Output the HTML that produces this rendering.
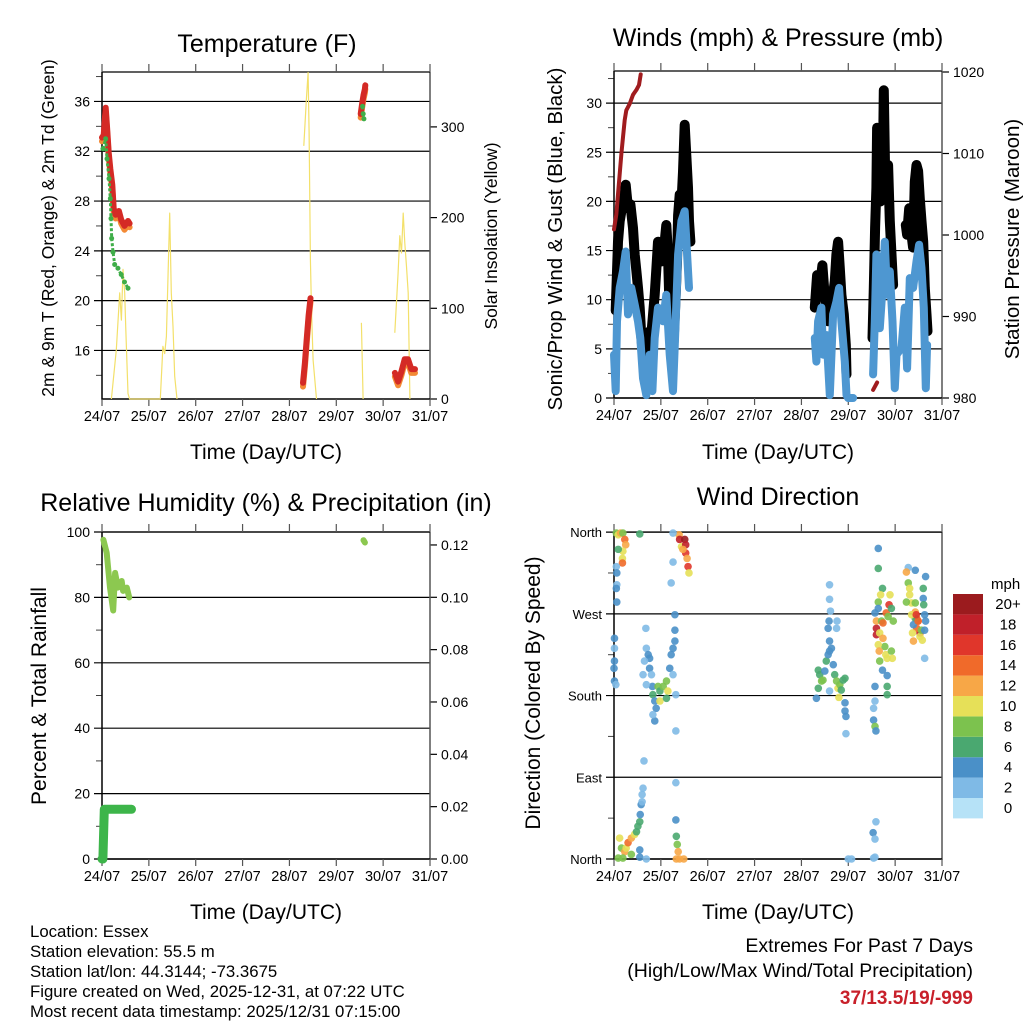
<!DOCTYPE html>
<html><head><meta charset="utf-8"><style>
html,body{margin:0;padding:0;background:#fff;}
svg{display:block;font-family:"Liberation Sans",Arial,sans-serif;}
</style></head><body>
<svg id="chart" width="1024" height="1024" viewBox="0 0 1024 1024" xmlns="http://www.w3.org/2000/svg">
<rect x="0" y="0" width="1024" height="1024" fill="#fff"/>
<g id="layer"></g>
<text x="267" y="52" font-size="25" text-anchor="middle">Temperature (F)</text>
<text x="778" y="46" font-size="25" text-anchor="middle">Winds (mph) &amp; Pressure (mb)</text>
<text x="266" y="511" font-size="25" text-anchor="middle">Relative Humidity (%) &amp; Precipitation (in)</text>
<text x="778" y="505" font-size="25" text-anchor="middle">Wind Direction</text>
<text x="266" y="459" font-size="21" text-anchor="middle">Time (Day/UTC)</text>
<text x="778" y="459" font-size="21" text-anchor="middle">Time (Day/UTC)</text>
<text x="266" y="919" font-size="21" text-anchor="middle">Time (Day/UTC)</text>
<text x="778" y="919" font-size="21" text-anchor="middle">Time (Day/UTC)</text>
<text transform="translate(54,228) rotate(-90)" font-size="17.5" text-anchor="middle">2m &amp; 9m T (Red, Orange) &amp; 2m Td (Green)</text>
<text transform="translate(497,236) rotate(-90)" font-size="17.5" text-anchor="middle">Solar Insolation (Yellow)</text>
<text transform="translate(562,239) rotate(-90)" font-size="20.5" text-anchor="middle">Sonic/Prop Wind &amp; Gust (Blue, Black)</text>
<text transform="translate(1019,239) rotate(-90)" font-size="20.5" text-anchor="middle">Station Pressure (Maroon)</text>
<text transform="translate(46,696) rotate(-90)" font-size="21" text-anchor="middle">Percent &amp; Total Rainfall</text>
<text transform="translate(540,693) rotate(-90)" font-size="21" text-anchor="middle">Direction (Colored By Speed)</text>
<g font-size="16.8">
<text x="30" y="937">Location: Essex</text>
<text x="30" y="957">Station elevation: 55.5 m</text>
<text x="30" y="977">Station lat/lon: 44.3144; -73.3675</text>
<text x="30" y="997">Figure created on Wed, 2025-12-31, at 07:22 UTC</text>
<text x="30" y="1017">Most recent data timestamp: 2025/12/31 07:15:00</text>
</g>
<text x="973" y="952" font-size="19.5" text-anchor="end">Extremes For Past 7 Days</text>
<text x="973" y="977" font-size="19.5" text-anchor="end">(High/Low/Max Wind/Total Precipitation)</text>
<text x="973" y="1004" font-size="19" font-weight="bold" fill="#c8202a" text-anchor="end">37/13.5/19/-999</text>
</svg>
<script>
// ---------- data ----------
const dayLabels=["24/07","25/07","26/07","27/07","28/07","29/07","30/07","31/07"];
const tempTicks=[16,20,24,28,32,36];
const solarTicks=[0,100,200,300];
const windTicks=[0,5,10,15,20,25,30];
const pressTicks=[980,990,1000,1010,1020];
const rhTicks=[0,20,40,60,80,100];
const precipTicks=["0.00","0.02","0.04","0.06","0.08","0.10","0.12"];
const dirTickLabels=["North","East","South","West","North"];
const dirTickValues=[0,90,180,270,360];
const speedLabels=["0","2","4","6","8","10","12","14","16","18","20+"];
const speedColors=["#b6e2f7","#7fbae6","#4a90c8","#4aa870","#7cc24e","#e6e058","#f7a747","#f06a2a","#e0362b","#c0202a","#9b1b1e"];

const tempDays=[0,0.036,0.078,0.107,0.142,0.178,0.22,0.25,0.29,0.36,0.41,0.48,0.555,0.59,null,4.29,4.33,4.37,4.41,4.45,null,5.52,5.55,5.58,5.61,5.62,null,6.25,6.32,6.39,6.46,6.53,6.6,6.68];
const tempVals=[33.1,33.3,35.5,34.0,31.9,30.6,29.3,27.4,26.9,27.2,26.5,26.0,26.4,26.2,null,13.4,15,17,18.8,20.2,null,35.0,35.8,36.5,37.0,37.3,null,14.2,13.5,14.3,15.3,15.3,14.5,14.5];
const dewDays=[0.02,0.078,0.107,0.15,0.178,0.192,0.206,0.235,0.27,0.34,0.41,0.48,0.555,null,5.56,5.575,5.59];
const dewVals=[32.2,33.0,31.4,29.8,28.2,26.6,25.0,23.9,22.9,22.6,22.1,21.5,21.0,null,35.6,35.0,34.6];
const solarDays=[0.2,0.306,0.377,0.413,0.448,0.484,0.505,0.555,0.59,1.245,1.30,1.338,1.374,1.41,1.445,1.48,1.516,1.552,1.60,null,4.306,4.363,4.399,4.42,4.448,4.47,4.505,4.577,null,5.537,5.573,null,6.249,6.32,6.356,6.391,6.427,6.463,6.498,6.534,6.57];
const solarVals=[0,54,117,87,143,117,80,6,0,0,58,50,69,139,205,117,80,25,0,null,279,331,360,294,154,98,43,0,null,84,0,null,73,139,180,161,205,172,146,117,0];

const windDays=[0,0.036,0.064,0.121,0.192,0.249,0.299,0.37,0.441,0.512,0.562,0.619,0.69,0.762,0.819,0.868,0.94,1.046,1.117,1.189,1.26,1.317,1.367,1.438,1.509,1.559,1.601,null,4.285,4.32,4.356,4.427,4.463,4.534,4.605,4.676,4.747,4.804,4.854,4.925,4.961,4.996,5.103,null,5.53,5.566,5.601,5.637,5.673,5.73,5.779,5.829,5.886,5.943,5.993,6.028,6.135,6.206,6.256,6.313,6.384,6.456,6.512,6.562,6.612,6.655,6.683];
const windVals=[4.4,0.7,7.8,11.2,12.9,14.9,8.5,11.2,9.5,7.8,6.1,2,0.3,4.4,0.7,6.1,9.2,7.8,10.5,4.4,0.7,7.8,14.6,18,19,14.6,11.2,null,6.1,3.7,7.8,9.2,4.4,6.4,0.3,8.5,9.8,11.2,7.8,3.7,0.3,0,0,null,2.4,7.8,14.6,9.2,7.1,11.2,15.9,10.5,12.9,7.8,1,4.4,5.1,9.2,3,12.2,11.2,13.9,15.6,13.2,9.2,1,5.4];
const gustDays=[0.036,0.085,0.121,0.157,0.206,0.249,0.299,0.349,0.406,0.441,0.477,0.512,0.548,0.584,0.619,0.655,0.69,0.726,0.762,0.797,0.868,0.904,0.94,0.975,1.011,1.082,1.117,1.153,1.189,1.26,1.317,1.345,1.367,1.402,1.438,1.473,1.509,1.544,1.58,1.601,1.63,null,4.285,4.335,4.39,4.448,4.498,4.57,4.64,4.712,4.747,4.783,4.819,4.854,4.904,4.947,4.961,null,5.516,5.544,5.573,5.601,5.616,5.63,5.658,5.687,5.73,5.758,5.786,5.815,5.85,5.886,5.922,5.957,null,6.228,6.256,6.299,6.349,6.384,6.42,6.456,6.491,6.527,6.562,6.598,6.633,6.669,6.69];
const gustVals=[8.9,15.9,18,19,19.7,21.7,19.3,19.7,17.3,14.6,12.9,11.2,9.2,6.1,4.4,5.1,4.4,6.1,6.8,6.4,10.5,13.2,15.9,15.3,13.9,15.9,17.6,14.6,8.5,4.4,10.5,13.9,18.6,20.7,19.7,23,27.8,24.7,21.4,18,15.9,null,9.2,12.5,11.2,13.5,10.2,7.8,9.2,11.9,14.6,15.9,13.2,10.5,8.5,5.4,2.4,null,6.1,11.2,17.3,21.4,27.5,25.4,23.1,20,20.3,31.3,23.1,20.7,23.7,18,14.6,11.5,null,17.6,16.6,19.3,16.6,15.3,22,23.7,23.1,20.3,18,15.9,11.2,8.5,6.8];
const pressDays=[0,0.05,0.085,0.121,0.157,0.192,0.228,0.263,0.335,0.406,0.477,0.534,0.569,null,5.53,5.616];
const pressVals=[1000.7,1002.5,1005,1007.5,1010,1012,1014.1,1015.3,1016.1,1017.2,1017.8,1018.4,1019.7,null,981,981.9];

const rhDays=[0.03,0.1,0.17,0.24,0.28,0.34,0.42,0.45,0.53,0.58,null,5.58,5.61];
const rhVals=[97.6,93.6,83,76,87.5,83,85,82,83,80,null,97.5,96.8];
const precipDays=[0.0,0.02,0.05,0.63];
const precipVals=[0,0,0.019,0.019];

const dirDays=[0.05,0.09,0.14,0.19,0.23,0.25,0.19,0.18,0.18,0.09,0.05,0.06,0.06,0.05,0.06,0.55,
0.01,0.01,0.01,0.0,0.01,0.04,0.68,0.69,0.73,0.76,0.76,0.80,0.82,0.83,0.87,0.90,0.87,0.94,0.98,0.98,1.05,1.12,1.15,1.12,1.19,1.22,1.26,1.30,1.30,1.30,1.26,1.32,0.62,0.69,0.65,0.83,1.32,
1.39,1.40,1.44,1.51,1.53,1.53,1.56,1.58,1.60,1.47,1.26,1.22,1.26,
0.12,0.16,0.23,0.26,0.30,0.37,0.37,0.44,0.48,0.51,0.55,0.56,0.58,0.60,0.62,0.60,0.55,0.55,0.09,0.19,0.69,0.64,1.32,1.32,1.33,1.35,1.37,1.40,1.49,1.33,
4.32,4.36,4.39,4.43,4.46,4.36,4.50,4.53,4.57,4.60,4.64,4.60,4.57,4.59,4.60,4.60,4.62,4.76,4.75,4.68,4.71,4.75,4.78,4.82,4.85,4.89,4.93,4.80,4.93,4.93,4.95,4.95,5.0,5.07,4.60,
5.64,5.64,5.73,5.64,5.69,5.89,5.87,5.81,5.57,5.60,5.71,5.74,5.60,5.60,5.67,5.74,5.78,5.64,5.66,5.67,5.80,5.83,5.73,5.92,5.94,5.96,5.85,5.92,5.64,5.83,5.83,5.83,5.57,5.57,5.54,5.54,5.57,5.59,5.53,5.57,5.59,5.57,5.54,
6.28,6.43,6.24,6.65,6.28,6.31,6.31,6.35,6.24,6.43,6.60,6.60,6.61,6.63,6.65,6.43,6.46,6.49,6.53,6.46,6.37,6.39,6.53,6.56,6.63,6.43,6.39,6.63,6.35,6.58,6.49,6.45];
const dirDegs=[359,357,359,359,352,346,339,331,326,341,322,315,302,298,283,358,
243,232,218,210,196,192,254,232,225,221,210,203,190,181,174,166,152,190,185,174,190,196,185,177,210,225,232,240,269,252,203,181,203,192,218,159,141,
357,352,344,352,346,337,331,322,315,341,327,304,359,
23,12,8,12,18,23,5,27,30,36,41,49,60,71,78,63,10,2,1,1,0,108,84,43,25,16,8,0,0,0,
177,188,203,196,197,208,207,218,225,229,232,240,254,262,286,302,273,262,254,214,203,196,188,192,186,197,199,178,172,163,157,138,0,0,185,
342,320,298,283,291,291,280,271,271,262,262,260,254,247,249,243,234,236,229,218,225,221,208,229,221,262,267,276,276,202,190,181,190,174,166,153,146,141,29,22,41,2,1];
dirDegs.push(321,318,316,311,304,298,291,282,283,282,298,287,280,269,262,272,265,262,249,254,249,240,245,252,252,265,258,221,269,241,262,269);
const dirSpeeds=[8,10,12,8,14,12,10,10,14,6,2,4,2,4,4,6,
4,2,4,4,4,2,2,2,4,4,4,2,4,6,4,4,4,8,6,10,8,8,10,6,4,4,4,4,4,4,2,2,2,2,2,2,2,
12,18,10,20,18,16,12,16,10,12,2,2,2,
10,8,12,10,14,12,8,10,6,6,6,4,4,2,2,2,4,4,8,8,2,2,2,4,6,8,12,12,12,12,
4,6,6,8,8,6,4,6,4,4,4,4,4,4,2,2,2,2,2,4,6,8,10,8,6,6,6,10,4,4,4,2,2,2,2,
4,6,6,8,10,10,16,14,4,12,8,14,18,18,10,12,8,10,12,8,10,10,4,8,10,8,8,6,4,4,6,6,4,2,2,4,8,4,4,2,2,2,2];
dirSpeeds.push(2,4,12,4,8,10,10,10,8,8,6,4,6,4,4,12,14,16,18,14,10,12,10,8,4,6,4,2,10,10,14,16);

// ---------- helpers ----------
const NS="http://www.w3.org/2000/svg";
const layer=document.getElementById('layer');
function mk(tag,attrs,parent){const e=document.createElementNS(NS,tag);for(const k in attrs)e.setAttribute(k,attrs[k]);(parent||layer).appendChild(e);return e;}
const P1={x0:102,x1:430,y0:72,y1:399};
const P2={x0:614,x1:942,y0:71,y1:398};
const P3={x0:102,x1:430,y0:532,y1:859};
const P4={x0:614,x1:942,y0:532,y1:859};
const dayW=p=>(p.x1-p.x0)/7;
const xs=(p,d)=>p.x0+d*dayW(p);
const yTemp=t=>399-(t-12.1)*12.45;
const ySolar=s=>399-s*0.907;
const yWind=w=>398-w*9.83;
const yPress=v=>398-(v-980)*8.15;
const yRH=r=>859-r*3.27;
const yPrecip=v=>859-v*2617;
const yDir=d=>859-d*0.908;

function pathFrom(p,days,vals,yf){let d="",pen=false;for(let i=0;i<days.length;i++){if(days[i]===null||vals[i]===null){pen=false;continue;}d+=(pen?"L":"M")+xs(p,days[i]).toFixed(1)+" "+yf(vals[i]).toFixed(1);pen=true;}return d;}

function frame(p,name,gridYs,leftLabels,rightTicks,rightLabels,minorL){
  const g=mk('g',{});
  
  
  gridYs.forEach((y,i)=>{
    const l=mk('line',{x1:p.x0-8,x2:p.x1,y1:y,y2:y,stroke:'#000','stroke-width':1.2},g);
    
    
    const t=mk('text',{x:p.x0-12,y:y+5,'font-size':(name==='direction'?13:14),'text-anchor':'end'},g);
    t.textContent=leftLabels[i];
    
    
  });
  (minorL||[]).forEach(y=>{mk('line',{x1:p.x0-6,x2:p.x0,y1:y,y2:y,stroke:'#444','stroke-width':1},g);});
  rightTicks.forEach((y,i)=>{
    mk('line',{x1:p.x1,x2:p.x1+7,y1:y,y2:y,stroke:'#000','stroke-width':1.2},g);
    if(rightLabels){const t=mk('text',{x:p.x1+11,y:y+5,'font-size':14},g);t.textContent=rightLabels[i];
      
      }
  });
  mk('line',{x1:p.x0,x2:p.x0,y1:p.y0,y2:p.y1+1,stroke:'#000','stroke-width':1.5},g);
  mk('line',{x1:p.x1,x2:p.x1,y1:p.y0,y2:p.y1+1,stroke:'#555','stroke-width':1.5},g);
  mk('line',{x1:p.x0,x2:p.x1,y1:p.y0,y2:p.y0,stroke:'#000','stroke-width':1.2},g);
  mk('line',{x1:p.x0,x2:p.x1,y1:p.y1,y2:p.y1,stroke:'#000','stroke-width':1.5},g);
  dayLabels.forEach((lab,i)=>{
    const x=xs(p,i);
    mk('line',{x1:x,x2:x,y1:p.y0-8,y2:p.y0,stroke:'#555','stroke-width':1.2},g);
    mk('line',{x1:x,x2:x,y1:p.y1,y2:p.y1+7,stroke:'#555','stroke-width':1.2},g);
    const t=mk('text',{x:x,y:p.y1+22,'font-size':14.5,'text-anchor':'middle'},g);
    t.textContent=lab;
    
    
  });
}

// ---------- panel 1 ----------
frame(P1,'temperature',tempTicks.map(yTemp),tempTicks,solarTicks.map(ySolar),solarTicks,[14,18,22,26,30,34,38].map(yTemp));
let e;
e=mk('path',{d:pathFrom(P1,solarDays,solarVals,ySolar),fill:'none',stroke:'#f3e06a','stroke-width':1.2,'stroke-linejoin':'round'});


e=mk('path',{d:pathFrom(P1,tempDays,tempVals.map(v=>v===null?null:v-0.3),yTemp),fill:'none',stroke:'#f38a35','stroke-width':6,'stroke-linecap':'round','stroke-linejoin':'round'});


e=mk('path',{d:pathFrom(P1,tempDays,tempVals,yTemp),fill:'none',stroke:'#d42a25','stroke-width':6,'stroke-linecap':'round','stroke-linejoin':'round'});


dewDays.forEach((d,i)=>{if(d===null)return;
  const c=mk('circle',{cx:xs(P1,d),cy:yTemp(dewVals[i]),r:2.5,fill:'#3fae49'});
  
  });
e=mk('path',{d:pathFrom(P1,dewDays,dewVals,yTemp),fill:'none',stroke:'#3fae49','stroke-width':3,'stroke-dasharray':'3 2'});



// ---------- panel 2 ----------
frame(P2,'winds',windTicks.map(yWind),windTicks,pressTicks.map(yPress),pressTicks,[2.5,7.5,12.5,17.5,22.5,27.5,32.5].map(yWind));
e=mk('path',{d:pathFrom(P2,gustDays,gustVals,yWind),fill:'none',stroke:'#000','stroke-width':10,'stroke-linecap':'round','stroke-linejoin':'round'});


gustDays.forEach((d,i)=>{if(d===null)return;
  const c=mk('circle',{cx:xs(P2,d),cy:yWind(gustVals[i]),r:3.5,fill:'#000'});
  
  });
e=mk('path',{d:pathFrom(P2,windDays,windVals,yWind),fill:'none',stroke:'#4e97d1','stroke-width':8,'stroke-linecap':'round','stroke-linejoin':'round'});


e=mk('path',{d:pathFrom(P2,pressDays,pressVals,yPress),fill:'none',stroke:'#a01c1f','stroke-width':4,'stroke-linecap':'round','stroke-linejoin':'round'});



// ---------- panel 3 ----------
frame(P3,'humidity',rhTicks.map(yRH),rhTicks,precipTicks.map(v=>yPrecip(parseFloat(v))),precipTicks,[10,30,50,70,90].map(yRH));
e=mk('path',{d:pathFrom(P3,rhDays,rhVals,yRH),fill:'none',stroke:'#8cc850','stroke-width':6,'stroke-linecap':'round','stroke-linejoin':'round'});


e=mk('path',{d:pathFrom(P3,precipDays,precipVals,yPrecip),fill:'none',stroke:'#3db54a','stroke-width':9,'stroke-linecap':'round','stroke-linejoin':'round'});



// ---------- panel 4 ----------
frame(P4,'direction',dirTickValues.map(yDir),dirTickLabels,[],null,[45,135,225,315].map(yDir));
const n=Math.min(dirDays.length,dirDegs.length,dirSpeeds.length);
for(let i=0;i<n;i++){
  const idx=Math.min(10,Math.floor(dirSpeeds[i]/2));
  const c=mk('circle',{cx:xs(P4,dirDays[i]),cy:yDir(dirDegs[i]),r:3.8,fill:speedColors[idx],'fill-opacity':0.9});
  
  
}
// colorbar
const cb=mk('g',{});


const mph=mk('text',{x:991,y:589,'font-size':15},cb);mph.textContent='mph';


speedLabels.forEach((lab,i)=>{
  const y=594+(10-i)*20.4;
  const r=mk('rect',{x:953,y:y,width:30,height:20.4,fill:speedColors[i]},cb);
  
  
  const t=mk('text',{x:1008,y:y+15,'font-size':15,'text-anchor':'middle'},cb);t.textContent=lab;
  
  
});
</script>
</body></html>
